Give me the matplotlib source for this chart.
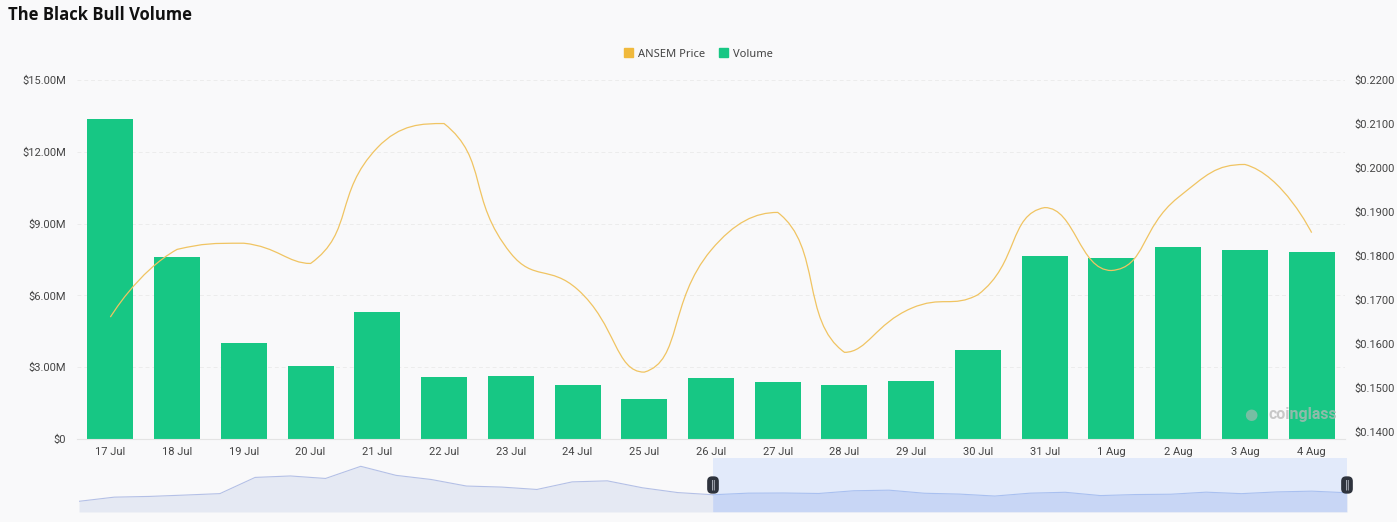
import numpy as np
import matplotlib
matplotlib.use("Agg")
import matplotlib.pyplot as plt
from matplotlib.path import Path
from matplotlib.patches import PathPatch, Patch
from matplotlib.ticker import FuncFormatter, FixedLocator

# ---- data ----
days = ["17 Jul", "18 Jul", "19 Jul", "20 Jul", "21 Jul", "22 Jul", "23 Jul",
        "24 Jul", "25 Jul", "26 Jul", "27 Jul", "28 Jul", "29 Jul", "30 Jul",
        "31 Jul", "1 Aug", "2 Aug", "3 Aug", "4 Aug"]
volume = [13.37e6, 7.60e6, 4.01e6, 3.05e6, 5.31e6, 2.59e6, 2.63e6, 2.26e6,
          1.67e6, 2.55e6, 2.38e6, 2.26e6, 2.42e6, 3.72e6, 7.65e6, 7.56e6,
          8.02e6, 7.90e6, 7.81e6]
price = [0.1661, 0.1815, 0.1829, 0.1783, 0.2046, 0.2101, 0.1806, 0.1724,
         0.1536, 0.1813, 0.1899, 0.1581, 0.1681, 0.1712, 0.1910, 0.1767,
         0.1933, 0.2008, 0.1853]
# earlier history only visible in the zoom slider (29 Jun - 16 Jul)
earlier_price = [0.103, 0.143, 0.150, 0.163, 0.177, 0.333, 0.347, 0.323, 0.440,
                 0.353, 0.313, 0.250, 0.240, 0.217, 0.290, 0.300, 0.233, 0.187]

vol_ticks = [0, 3e6, 6e6, 9e6, 12e6, 15e6]
price_ticks = [0.14, 0.15, 0.16, 0.17, 0.18, 0.19, 0.20, 0.21, 0.22]

BG = "#f9f9fa"
GREEN = "#17c784"
GOLD = "#f0c462"
LABEL = "#444444"
W, H = 1397, 522


def smooth_line(pts, smooth=0.5):
    # echarts-like bezier smoothing, control points clamped to neighbours
    n = len(pts)
    fwd = pts.copy()
    back = pts.copy()
    for i in range(1, n - 1):
        prev, cur, nxt = pts[i - 1], pts[i], pts[i + 1]
        v = nxt - prev
        l0 = np.hypot(*(cur - prev))
        l1 = np.hypot(*(nxt - cur))
        r = l1 / (l0 + l1)
        f = cur + v * smooth * r
        b = cur - v * smooth * (1 - r)
        fwd[i] = np.clip(f, np.minimum(cur, nxt), np.maximum(cur, nxt))
        back[i] = np.clip(b, np.minimum(cur, prev), np.maximum(cur, prev))
    verts = [pts[0]]
    codes = [Path.MOVETO]
    for i in range(n - 1):
        verts += [fwd[i], back[i + 1], pts[i + 1]]
        codes += [Path.CURVE4] * 3
    return np.array(verts), codes


fig = plt.figure(figsize=(W / 100, H / 100), dpi=100, facecolor=BG)

# main chart area (pixels 77..1345 x, 80..439 y)
ax = fig.add_axes([77 / W, 1 - 439 / H, (1345 - 77) / W, (439 - 80) / H])
ax.set_facecolor(BG)
x = np.arange(len(days))
ax.bar(x, volume, width=0.69, color=GREEN, zorder=2)
ax.set_xlim(-0.5, len(days) - 0.5)
ax.set_ylim(0, 15e6)
ax.yaxis.set_major_locator(FixedLocator(vol_ticks))
ax.yaxis.set_major_formatter(FuncFormatter(
    lambda v, p: "$0" if v == 0 else f"${v / 1e6:.2f}M"))
ax.set_xticks(x)
ax.set_xticklabels(days)
ax.grid(axis="y", color="#ececec", lw=0.7, ls=(0, (4, 3)), zorder=0)
for s in ["top", "right", "left"]:
    ax.spines[s].set_visible(False)
ax.spines["bottom"].set_color("#e4e4e4")
ax.tick_params(axis="both", length=0, labelsize=8, labelcolor=LABEL,
               labelfontfamily="Roboto")
ax.tick_params(axis="x", pad=6)
ax.tick_params(axis="y", pad=8)

ax2 = ax.twinx()
ax2.set_ylim(0.1384, 0.2200)
ax2.yaxis.set_major_locator(FixedLocator(price_ticks))
ax2.yaxis.set_major_formatter(FuncFormatter(lambda v, p: f"${v:.4f}"))
for s in ax2.spines.values():
    s.set_visible(False)
ax2.tick_params(axis="y", length=0, labelsize=8, labelcolor=LABEL,
                labelfontfamily="Roboto", pad=7)

disp = ax2.transData.transform(np.column_stack([x, price]))
verts, codes = smooth_line(disp)
verts = ax2.transData.inverted().transform(verts)
ax2.add_patch(PathPatch(Path(verts, codes), fill=False, edgecolor=GOLD,
                        lw=0.9, zorder=3))

# watermark
ax2.text(0.926, 0.067, "\u25cf", transform=ax2.transAxes, ha="center",
         va="center", fontsize=11, color="#b8b8b8", alpha=0.6, zorder=6)
ax2.text(0.994, 0.067, "coinglass", transform=ax2.transAxes, ha="right",
         va="center", fontsize=11.5, fontweight="bold", color="#b8b8b8",
         alpha=0.75, family="Roboto", zorder=6)

# title and legend
fig.text(8 / W, 1 - 15 / H, "The Black Bull Volume", fontsize=12,
         fontweight="bold", color="#111111", va="center",
         family=["Open Sans", "DejaVu Sans"])
handles = [Patch(color="#f0b93c", label="ANSEM Price"),
           Patch(color=GREEN, label="Volume")]
fig.legend(handles=handles, loc="center", bbox_to_anchor=(0.5, 1 - 54 / H),
           ncol=2, frameon=False, handlelength=0.8,
           handleheight=0.8, handletextpad=0.5, columnspacing=1.2,
           labelcolor=LABEL, prop={"family": "Noto Sans", "size": 8})

# zoom slider with history shadow
sl = fig.add_axes([79 / W, 1 - 512 / H, (1347 - 79) / W, 54 / H])
sl.set_facecolor(BG)
hist = earlier_price + price
hx = np.arange(len(hist))
sel0 = len(earlier_price)
sl.set_xlim(0, len(hist) - 1)
sl.set_ylim(0, 0.52)
sl.fill_between(hx, hist, color="#d2dbee", alpha=0.5, lw=0)
sl.plot(hx[:sel0 + 1], hist[:sel0 + 1], color="#b4c0e6", lw=0.8)
sl.axvspan(sel0, len(hist) - 1, color="#87afff", alpha=0.2, lw=0)
sl.fill_between(hx[sel0:], hist[sel0:], color="#8fb0f7", alpha=0.14, lw=0)
sl.plot(hx[sel0:], hist[sel0:], color="#a9c0f0", lw=0.8)
for hpos in [sel0, len(hist) - 1]:
    sl.text(hpos, 0.5, "\u2016", transform=sl.get_xaxis_transform(),
            ha="center", va="center", fontsize=7, color="#c9ced8",
            bbox=dict(boxstyle="round,pad=0.35,rounding_size=0.5",
                      fc="#2e333d", ec="none"), zorder=5, clip_on=False)
sl.set_xticks([])
sl.set_yticks([])
for s in sl.spines.values():
    s.set_visible(False)

fig.savefig("out.png", dpi=100, facecolor=BG)
